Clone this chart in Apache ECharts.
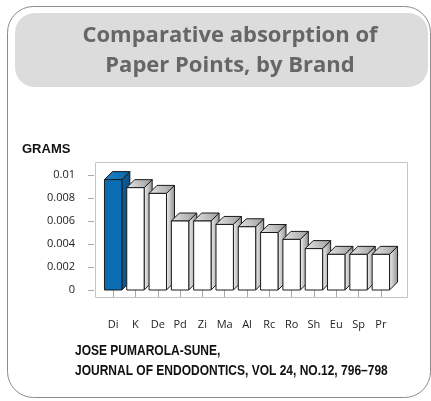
<!DOCTYPE html>
<html>
<head>
<meta charset="utf-8">
<script src="https://cdn.jsdelivr.net/npm/echarts@6/dist/echarts.min.js"></script>
<style>html,body{margin:0;padding:0;background:#fff;}#c{width:431px;height:401px;}</style>
</head>
<body>
<div id="c"></div>
<script>
const categories = ['Di','K','De','Pd','Zi','Ma','Al','Rc','Ro','Sh','Eu','Sp','Pr'];
const grams = [0.0096,0.0089,0.0084,0.0060,0.0060,0.0057,0.0055,0.0050,0.0044,0.0036,0.0031,0.0031,0.0031];
const yTicks = [0,0.002,0.004,0.006,0.008,0.01];
const highlighted = ['Di'];
const titleLines = ['Comparative absorption of','Paper Points, by Brand'];
const yAxisTitle = 'GRAMS';
const sourceLines = ['JOSE PUMAROLA-SUNE,','JOURNAL OF ENDODONTICS, VOL 24, NO.12, 796\u2013798'];

const chart = echarts.init(document.getElementById('c'), null, {renderer:'canvas'});
const D = 8;
function renderItem(params, api){
  const cat = api.value(0);
  const p = api.coord([cat, api.value(1)]);
  const b = api.coord([cat, 0]);
  const w = api.size([1,0])[0]*0.78;
  const l = p[0]-w/2, r = p[0]+w/2, t = p[1], bt = b[1];
  const hi = highlighted.indexOf(categories[params.dataIndex]) >= 0;
  const frontFill = hi ? '#0a6db3' : '#ffffff';
  const sideFill = hi ? new echarts.graphic.LinearGradient(0,0,1,0,[{offset:0,color:'#0b5d9b'},{offset:1,color:'#0a4f86'}])
                      : new echarts.graphic.LinearGradient(0,0,1,0,[{offset:0,color:'#f2f2f2'},{offset:1,color:'#8e8e8e'}]);
  const topFill = hi ? new echarts.graphic.LinearGradient(0,1,1,0,[{offset:0,color:'#1f82c8'},{offset:1,color:'#0b65a8'}])
                     : new echarts.graphic.LinearGradient(0,1,1,0,[{offset:0,color:'#e8e8e8'},{offset:1,color:'#9a9a9a'}]);
  const st = {stroke:'#1a1a1a', lineWidth:1};
  return {type:'group', children:[
    {type:'polygon', shape:{points:[[r,t],[r+D,t-D],[r+D,bt-D],[r,bt]]}, style:Object.assign({fill:sideFill},st)},
    {type:'polygon', shape:{points:[[l,t],[l+D,t-D],[r+D,t-D],[r,t]]}, style:Object.assign({fill:topFill},st)},
    {type:'rect', shape:{x:l,y:t,width:w,height:bt-t}, style:Object.assign({fill:frontFill},st)}
  ]};
}

chart.setOption({
  animation:false,
  backgroundColor:'#fff',
  graphic:[
    {type:'rect', shape:{x:7.5,y:6.5,width:423,height:391,r:26}, style:{fill:'#fff',stroke:'#8c8c8c',lineWidth:1}, z:-10},
    {type:'rect', shape:{x:15,y:13,width:413,height:74,r:20}, style:{fill:'#dcdcdc'}, z:-9},
    {type:'text', x:230, y:21, style:{text:titleLines.join('\n'), fill:'#666666', font:'bold 22px "Open Sans"', textAlign:'center', textVerticalAlign:'top', lineHeight:30}, z:5},
    {type:'text', x:22, y:143, style:{text:yAxisTitle, fill:'#111', font:'bold 13px "Liberation Sans"', textVerticalAlign:'top'}},
    {type:'rect', shape:{x:95.5,y:162.5,width:312,height:135}, style:{fill:'none',stroke:'#c4c4c4',lineWidth:1}, z:-5},
    {type:'text', x:75, y:341, scaleX:0.80, originX:0, originY:0, style:{text:sourceLines.join('\n'), fill:'#111', font:'bold 15px "Liberation Sans"', lineHeight:20, textVerticalAlign:'top'}}
  ],
  grid:{left:102, right:39, top:175, bottom:111, containLabel:false},
  xAxis:{type:'category', data:categories, offset:10,
    axisLine:{show:false}, axisTick:{show:true, alignWithLabel:true, length:7, lineStyle:{color:'#aaa'}},
    axisLabel:{margin:19, color:'#222', fontSize:11, fontFamily:'Open Sans'}},
  yAxis:{type:'value', min:0, max:0.01, interval:0.002, offset:8,
    axisLine:{show:false}, splitLine:{show:false},
    axisTick:{show:true, length:6, lineStyle:{color:'#aaa'}},
    axisLabel:{margin:19, color:'#222', fontSize:11, fontFamily:'Open Sans'}},
  series:[{type:'custom', renderItem:renderItem, data:categories.map((c,i)=>[i,grams[i]]), clip:false}]
});
</script>
</body>
</html>
